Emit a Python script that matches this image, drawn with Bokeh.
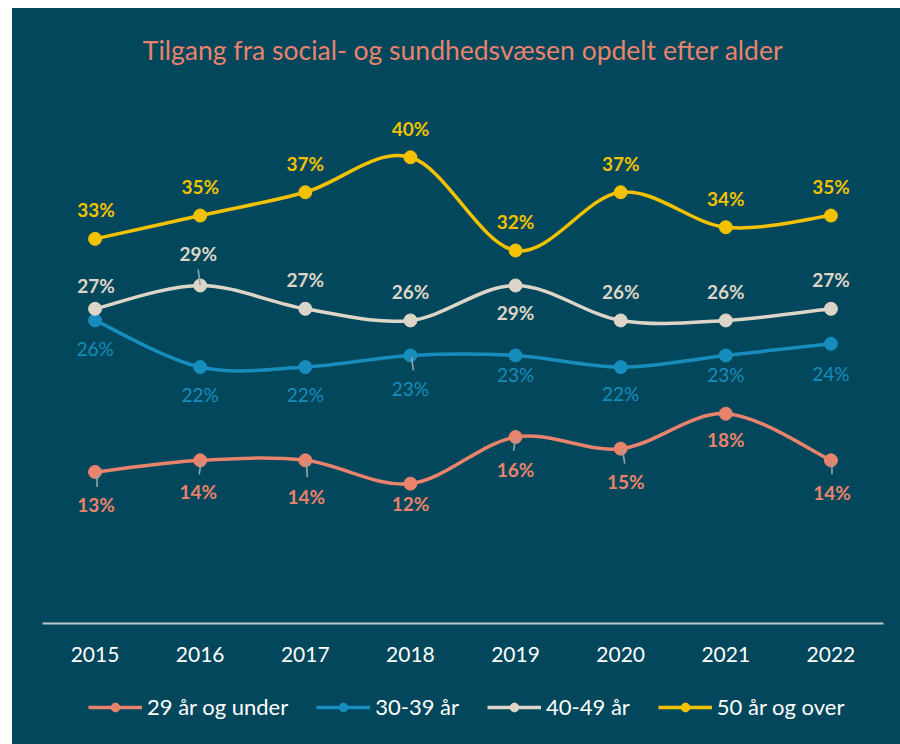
import numpy as np
from bokeh.plotting import figure
from bokeh.layouts import column
from bokeh.models import Range1d, FixedTicker, Legend, LegendItem, ColumnDataSource
from bokeh.core.properties import value
from bokeh.embed import file_html
from bokeh.resources import INLINE

# ---------------- data ----------------
years = ["2015", "2016", "2017", "2018", "2019", "2020", "2021", "2022"]
under_29 = [13, 14, 14, 12, 16, 15, 18, 14]
age_30_39 = [26, 22, 22, 23, 23, 22, 23, 24]
age_40_49 = [27, 29, 27, 26, 29, 26, 26, 27]
over_50 = [33, 35, 37, 40, 32, 37, 34, 35]
series_names = ["29 år og under", "30-39 år", "40-49 år", "50 år og over"]
title_text = "Tilgang fra social- og sundhedsvæsen opdelt efter alder"

# ---------------- styles ----------------
BG = "#02475B"
PAGE = "#EEEBE5"
colors = ["#E9836C", "#168DBC", "#DDD6C8", "#F2C200"]
label_bold = ["bold", "normal", "bold", "bold"]
FONT = "Lato"

# label offsets in screen px relative to each point (+ = down / right)
label_dy = [
    [33, 31, 36, 20, 32, 33, 26, 32],
    [28, 27, 27, 33, 19, 26, 19, 30],
    [-23, -32, -29, -29, 27, -29, -29, -29],
    [-29, -29, -29, -29, -29, -29, -29, -29],
]
label_dx = [
    [1, -2, 1, 0, 0, 5, 0, 1],
    [0, 0, 0, 0, 0, 0, 0, 0],
    [1, -2, 0, 0, 0, 0, 0, 0],
    [1, 0, 0, 0, 0, 0, 0, 0],
]
# leader lines: (series, point, dx0, dy0, dx1, dy1) in px from the point
leaders = [
    (0, 0, 2, 2, 2, 15), (0, 1, 1, 1, -1, 14), (0, 2, 1, 1, 2, 17),
    (0, 4, 0, 1, -2, 14), (0, 5, 2, 1, 4, 15), (0, 7, 1, 1, 1, 14),
    (2, 1, 0, 0, -2, -16), (1, 3, 1, 2, 3, 15),
]

W, H = 888, 672
BL, BR, BT, BB = 30, 17, 78, 57
LEG_H = 64
Y_MAX = 45.9
n = len(years)
px_x = (W - BL - BR) / n
px_y = (H - BT - BB) / Y_MAX

p = figure(width=W, height=H, output_backend="svg", toolbar_location=None,
           x_range=Range1d(-0.5, n - 0.5), y_range=Range1d(0, Y_MAX),
           min_border_left=BL, min_border_right=BR, min_border_top=BT,
           min_border_bottom=BB, background_fill_color=None,
           border_fill_color=None)
p.outline_line_color = None
p.margin = (8, 0, 0, 12)
p.styles = {"background-color": BG}

p.title.text = title_text
p.title.align = "center"
p.title.vertical_align = "bottom"
p.title.text_color = "#E9836C"
p.title.text_font = FONT
p.title.text_font_size = "26.5px"
p.title.text_font_style = "normal"
p.title.standoff = 46

p.xgrid.visible = False
p.ygrid.visible = False
p.yaxis.visible = False
ax = p.xaxis[0]
ax.ticker = FixedTicker(ticks=list(range(n)))
ax.major_label_overrides = {i: y for i, y in enumerate(years)}
ax.axis_line_color = "#BFC8CB"
ax.axis_line_width = 2
ax.major_tick_line_color = None
ax.minor_tick_line_color = None
ax.major_label_text_color = "#FFFFFF"
ax.major_label_text_font = FONT
ax.major_label_text_font_size = "21px"
ax.major_label_standoff = 17


def smooth(vals):
    """Catmull-Rom style Bezier segments (like a smoothed spreadsheet line)."""
    xs = np.arange(len(vals), dtype=float)
    ys = np.array(vals, dtype=float)
    P = np.column_stack([xs, ys])
    Pe = np.vstack([P[0], P, P[-1]])
    seg = dict(x0=[], y0=[], x1=[], y1=[], cx0=[], cy0=[], cx1=[], cy1=[])
    for i in range(len(vals) - 1):
        p0, p1, p2, p3 = Pe[i], Pe[i + 1], Pe[i + 2], Pe[i + 3]
        c0 = p1 + (p2 - p0) / 6.0
        c1 = p2 - (p3 - p1) / 6.0
        seg["x0"].append(p1[0]); seg["y0"].append(p1[1])
        seg["x1"].append(p2[0]); seg["y1"].append(p2[1])
        seg["cx0"].append(c0[0]); seg["cy0"].append(c0[1])
        seg["cx1"].append(c1[0]); seg["cy1"].append(c1[1])
    return seg


all_series = [under_29, age_30_39, age_40_49, over_50]
for s, vals in enumerate(all_series):
    col = colors[s]
    p.bezier(source=ColumnDataSource(smooth(vals)), x0="x0", y0="y0",
             x1="x1", y1="y1", cx0="cx0", cy0="cy0", cx1="cx1",
             cy1="cy1", line_color=col, line_width=3.5)
    p.scatter(list(range(n)), vals, size=13, fill_color=col, line_color=col)

# leader lines
lx0, ly0, lx1, ly1 = [], [], [], []
for s, i, dx0, dy0, dx1, dy1 in leaders:
    v = all_series[s][i]
    lx0.append(i + dx0 / px_x); ly0.append(v - dy0 / px_y)
    lx1.append(i + dx1 / px_x); ly1.append(v - dy1 / px_y)
p.segment(x0=lx0, y0=ly0, x1=lx1, y1=ly1, line_color="#93A6AC",
          line_width=1.6)

for s, vals in enumerate(all_series):
    src = ColumnDataSource(dict(x=list(range(n)), y=vals,
                                lab=[f"{v}%" for v in vals],
                                dx=label_dx[s], dy=label_dy[s]))
    p.text("x", "y", text="lab", source=src, x_offset="dx", y_offset="dy",
           text_align="center", text_baseline="middle",
           text_color=colors[s], text_font=value(FONT),
           text_font_size="19px", text_font_style=label_bold[s])

# ---------------- legend strip ----------------
q = figure(width=W, height=LEG_H, output_backend="svg", toolbar_location=None,
           x_range=Range1d(100, 101), y_range=Range1d(100, 101),
           x_axis_type=None, y_axis_type=None, min_border=0,
           background_fill_color=None, border_fill_color=None)
q.outline_line_color = None
q.xgrid.visible = False
q.ygrid.visible = False
q.margin = (0, 0, 0, 12)
q.styles = {"background-color": BG}

items = []
for s, vals in enumerate(all_series):
    col = colors[s]
    ln = q.line(list(range(n)), vals, line_color=col, line_width=3.5)
    sc = q.scatter(list(range(n)), vals, size=13, fill_color=col,
                   line_color=col)
    items.append(LegendItem(label=series_names[s], renderers=[ln, sc]))

legend = Legend(items=items, orientation="horizontal", location=(46, 24),
                background_fill_alpha=0, border_line_color=None,
                label_text_color="#FFFFFF", label_text_font=FONT,
                label_text_font_size="22px", glyph_width=54, glyph_height=22,
                spacing=28, label_standoff=5, margin=0, padding=0)
q.add_layout(legend, "center")

layout = column(p, q, spacing=0)
html = file_html(layout, INLINE)
html = html.replace("<body>", '<body style="background:%s;">' % PAGE, 1)
open("out.html", "w").write(html)
